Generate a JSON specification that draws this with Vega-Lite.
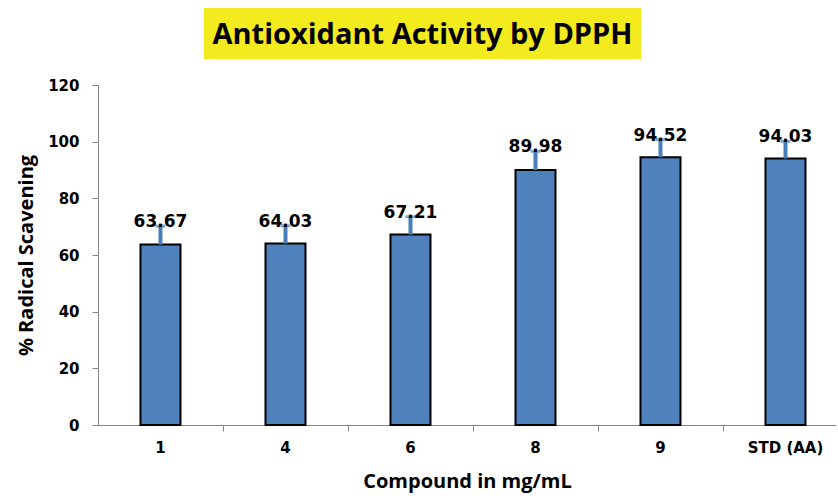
{
  "$schema": "https://vega.github.io/schema/vega-lite/v6.json",
  "padding": {"left": 16, "top": 8, "right": 0, "bottom": 8},
  "background": "white",
  "config": {"font": "DejaVu Sans", "view": {"stroke": null}},
  "center": false,
  "spacing": 19,
  "vconcat": [
    {
      "spacing": 0,
      "hconcat": [
        {
          "width": 106,
          "height": 51,
          "data": {"values": [{"t": ""}]},
          "mark": {"type": "text"},
          "encoding": {"text": {"field": "t"}}
        },
        {
          "width": 437,
          "height": 51,
          "view": {"fill": "#F4EB1E", "stroke": null},
          "data": {"values": [{"t": "Antioxidant Activity by DPPH"}]},
          "mark": {"type": "text", "font": "Open Sans", "fontSize": 29, "fontWeight": "bold", "color": "black", "baseline": "middle", "align": "center", "dy": 1},
          "encoding": {"text": {"field": "t"}}
        }
      ]
    },
    {
      "width": 738,
      "height": 340,
      "data": {
        "values": [
          {"compound": "1", "value": 63.67, "upper": 70.2},
          {"compound": "4", "value": 64.03, "upper": 70.3},
          {"compound": "6", "value": 67.21, "upper": 73.5},
          {"compound": "8", "value": 89.98, "upper": 96.6},
          {"compound": "9", "value": 94.52, "upper": 100.7},
          {"compound": "STD (AA)", "value": 94.03, "upper": 100.1}
        ]
      },
      "resolve": {"axis": {"x": "independent"}},
      "layer": [
        {
          "mark": {"type": "bar", "fill": "#4F81BD", "stroke": "black", "strokeWidth": 2},
          "encoding": {
            "x": {
              "field": "compound",
              "type": "nominal",
              "sort": null,
              "scale": {"paddingInner": 0.68, "paddingOuter": 0.292, "align": 0.582},
              "axis": {
                "orient": "bottom",
                "values": ["1", "4", "6", "8", "9"],
                "labels": false,
                "domainColor": "#868686",
                "tickColor": "#868686",
                "tickOffset": 62.5,
                "tickSize": 6,
                "title": null
              }
            },
            "y": {
              "field": "value",
              "type": "quantitative",
              "scale": {"domain": [0, 120]},
              "axis": {
                "values": [0, 20, 40, 60, 80, 100, 120],
                "grid": false,
                "domainColor": "#868686",
                "tickColor": "#868686",
                "tickSize": 6,
                "labelPadding": 13,
                "labelFont": "DejaVu Sans",
                "labelFontSize": 15,
                "labelFontWeight": "bold",
                "labelColor": "black",
                "title": "% Radical Scavening",
                "titleFont": "Open Sans",
                "titleFontSize": 20,
                "titleFontWeight": "bold",
                "titleColor": "black",
                "titlePadding": 11
              }
            }
          }
        },
        {
          "mark": {"type": "rule", "color": "#4A7EBB", "strokeWidth": 4},
          "encoding": {
            "x": {"field": "compound", "type": "nominal", "sort": null, "axis": null},
            "y": {"field": "value", "type": "quantitative"},
            "y2": {"field": "upper"}
          }
        },
        {
          "mark": {"type": "tick", "color": "#4A7EBB", "size": 10, "thickness": 3},
          "encoding": {
            "x": {"field": "compound", "type": "nominal", "sort": null, "axis": null},
            "y": {"field": "upper", "type": "quantitative"}
          }
        },
        {
          "mark": {"type": "text", "font": "DejaVu Sans", "fontSize": 17, "fontWeight": "bold", "color": "black", "baseline": "alphabetic", "dy": 1},
          "encoding": {
            "x": {
              "field": "compound",
              "type": "nominal",
              "sort": null,
              "axis": {
                "orient": "bottom",
                "labelAngle": 0,
                "domain": false,
                "ticks": false,
                "labelPadding": 15,
                "labelFont": "DejaVu Sans",
                "labelFontSize": 15,
                "labelFontWeight": "bold",
                "labelColor": "black",
                "title": "Compound in mg/mL",
                "titleFont": "Open Sans",
                "titleFontSize": 20,
                "titleFontWeight": "bold",
                "titleColor": "black",
                "titlePadding": 16
              }
            },
            "y": {"field": "upper", "type": "quantitative"},
            "text": {"field": "value", "type": "quantitative", "format": ".2f"}
          }
        }
      ]
    }
  ]
}
